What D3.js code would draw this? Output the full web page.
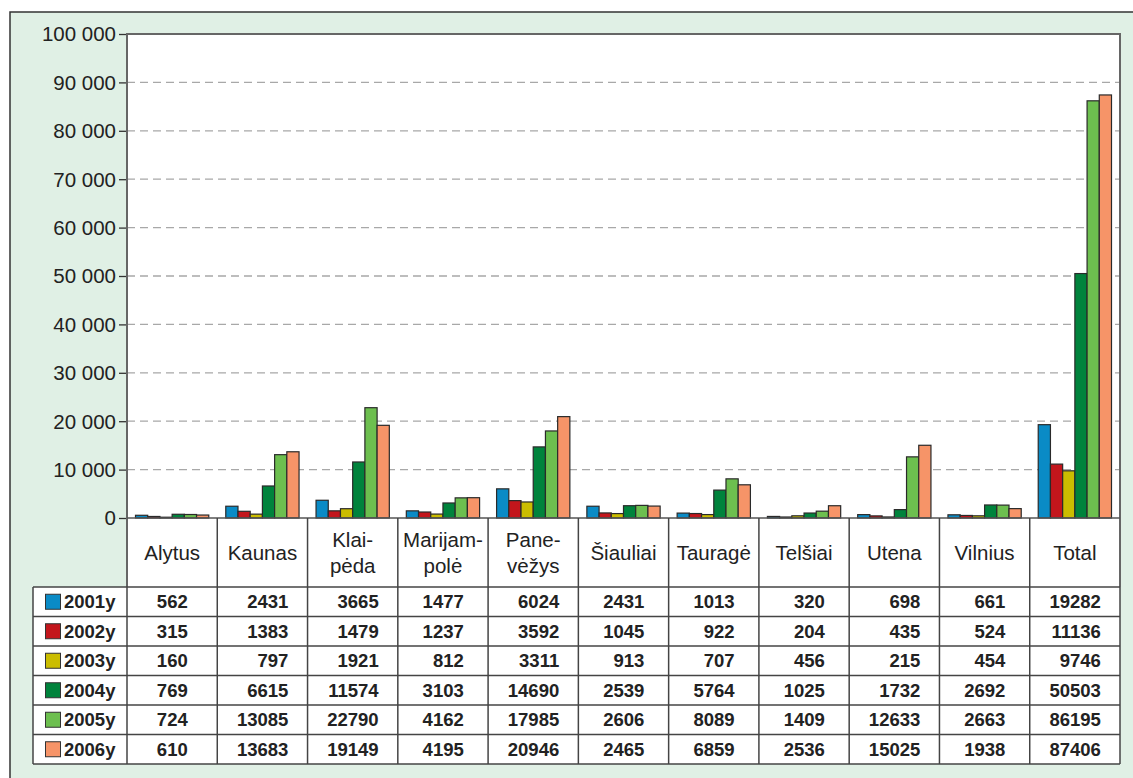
<!DOCTYPE html>
<html><head><meta charset="utf-8">
<script src="https://cdn.jsdelivr.net/npm/d3@7"></script>
<style>body{margin:0;background:#fff;}svg{display:block;font-family:"Liberation Sans",Arial,sans-serif;}</style>
</head><body>
<svg id="c" width="1133" height="778"></svg>
<script>
const categories = ["Alytus","Kaunas","Klai-\npėda","Marijam-\npolė","Pane-\nvėžys","Šiauliai","Tauragė","Telšiai","Utena","Vilnius","Total"];
const seriesNames = ["2001y","2002y","2003y","2004y","2005y","2006y"];
const v2001 = [562,2431,3665,1477,6024,2431,1013,320,698,661,19282];
const v2002 = [315,1383,1479,1237,3592,1045,922,204,435,524,11136];
const v2003 = [160,797,1921,812,3311,913,707,456,215,454,9746];
const v2004 = [769,6615,11574,3103,14690,2539,5764,1025,1732,2692,50503];
const v2005 = [724,13085,22790,4162,17985,2606,8089,1409,12633,2663,86195];
const v2006 = [610,13683,19149,4195,20946,2465,6859,2536,15025,1938,87406];
const yTicks = [0,10000,20000,30000,40000,50000,60000,70000,80000,90000,100000];
const colors = ["#0a8bc6","#c3161c","#cbbd00","#00833c","#6dbf4f","#f69468"];
const seriesValues = [v2001,v2002,v2003,v2004,v2005,v2006];

const svg = d3.select("#c");
const L = 127, R = 1120, T = 34, B = 518;
const tableL = 33, tableTop = 587, rowH = 29.5;

// outer panel
svg.append("rect").attr("x",10).attr("y",12).attr("width",1140).attr("height",790)
  .attr("fill","#e0f0e5").attr("stroke","#333").attr("stroke-width",1.5);

const x0 = d3.scaleBand().domain(d3.range(categories.length)).range([L,R]).padding(0);
const x1 = d3.scaleBand().domain(d3.range(seriesNames.length)).range([8.5, x0.bandwidth()-8.5]).padding(0);
const y = d3.scaleLinear().domain([0,100000]).range([B,T]);

// plot area
svg.append("rect").attr("x",L).attr("y",T).attr("width",R-L).attr("height",B-T).attr("fill","#fff");
// header row + table background
svg.append("rect").attr("x",L).attr("y",B).attr("width",R-L).attr("height",tableTop-B).attr("fill","#fff");
svg.append("rect").attr("x",tableL).attr("y",tableTop).attr("width",R-tableL).attr("height",rowH*6).attr("fill","#fff");

// grid
svg.append("g").selectAll("line").data(yTicks.filter(d=>d>0&&d<100000)).join("line")
  .attr("x1",L).attr("x2",R).attr("y1",d=>y(d)).attr("y2",d=>y(d))
  .attr("stroke","#a8a8a8").attr("stroke-width",1.3).attr("stroke-dasharray","8,5");

// y axis
const fmt = d => d3.format(",")(d).replace(/,/g," ");
const yAxis = d3.axisLeft(y).tickValues(yTicks).tickFormat(fmt).tickSize(8).tickPadding(3);
const ga = svg.append("g").attr("transform",`translate(${L},0)`).call(yAxis);
ga.select(".domain").remove();
ga.selectAll(".tick line").attr("stroke","#333").attr("stroke-width",1.3);
ga.selectAll(".tick text").attr("font-size",20.5).attr("fill","#222").attr("font-family","Liberation Sans, Arial, sans-serif").attr("dy","0.34em");

// bars
const gb = svg.append("g");
seriesValues.forEach((vals,si)=>{
  gb.append("g").selectAll("rect").data(vals).join("rect")
    .attr("x",(d,i)=>x0(i)+x1(si)).attr("width",x1.bandwidth())
    .attr("y",d=>y(d)).attr("height",d=>y(0)-y(d))
    .attr("fill",colors[si]).attr("stroke","#2a2a2a").attr("stroke-width",1.2);
});

// plot border
svg.append("path").attr("d",`M${L},${tableTop}V${T}H${R}V${tableTop}`).attr("fill","none").attr("stroke","#666").attr("stroke-width",2);
svg.append("line").attr("x1",L).attr("x2",R).attr("y1",B).attr("y2",B).attr("stroke","#555").attr("stroke-width",1.5);

// category header
const gh = svg.append("g");
categories.forEach((c,i)=>{
  const lines = c.split("\n");
  const cx = x0(i)+x0.bandwidth()/2;
  const cy = (B+tableTop)/2;
  const t = gh.append("text").attr("x",cx).attr("text-anchor","middle").attr("font-size",20.5).attr("fill","#222");
  lines.forEach((ln,k)=>{
    t.append("tspan").attr("x",cx).attr("y",cy + (k-(lines.length-1)/2)*26 + 7).text(ln);
  });
});

// table lines
const gl = svg.append("g").attr("stroke","#444").attr("stroke-width",1.5);
for(let i=1;i<categories.length;i++){
  gl.append("line").attr("x1",x0(i)).attr("x2",x0(i)).attr("y1",B).attr("y2",tableTop+rowH*6);
}
gl.append("line").attr("x1",L).attr("x2",L).attr("y1",tableTop).attr("y2",tableTop+rowH*6);
gl.append("line").attr("x1",R).attr("x2",R).attr("y1",tableTop).attr("y2",tableTop+rowH*6);
gl.append("line").attr("x1",tableL).attr("x2",tableL).attr("y1",tableTop).attr("y2",tableTop+rowH*6);
for(let r=0;r<=6;r++){
  gl.append("line").attr("x1",tableL).attr("x2",R).attr("y1",tableTop+r*rowH).attr("y2",tableTop+r*rowH);
}

// legend column
const gleg = svg.append("g");
seriesNames.forEach((s,si)=>{
  const cy = tableTop + si*rowH + rowH/2;
  gleg.append("rect").attr("x",45.5).attr("y",cy-7.5).attr("width",15).attr("height",15)
    .attr("fill",colors[si]).attr("stroke","#333").attr("stroke-width",1);
  gleg.append("text").attr("x",64).attr("y",cy+6.5).attr("font-size",18.5).attr("font-weight","bold").attr("fill","#222").text(s);
});

// values
const gv = svg.append("g");
categories.forEach((c,i)=>{
  const col = seriesValues.map(v=>v[i]);
  const maxLen = d3.max(col, d=>String(d).length);
  const w = maxLen*10.4;
  const rx = x0(i)+x0.bandwidth()/2 + w/2;
  col.forEach((val,si)=>{
    gv.append("text").attr("x",rx).attr("y",tableTop+si*rowH+rowH/2+6.5)
      .attr("text-anchor","end").attr("font-size",18.5).attr("font-weight","bold").attr("fill","#222").text(val);
  });
});
</script>
</body></html>
